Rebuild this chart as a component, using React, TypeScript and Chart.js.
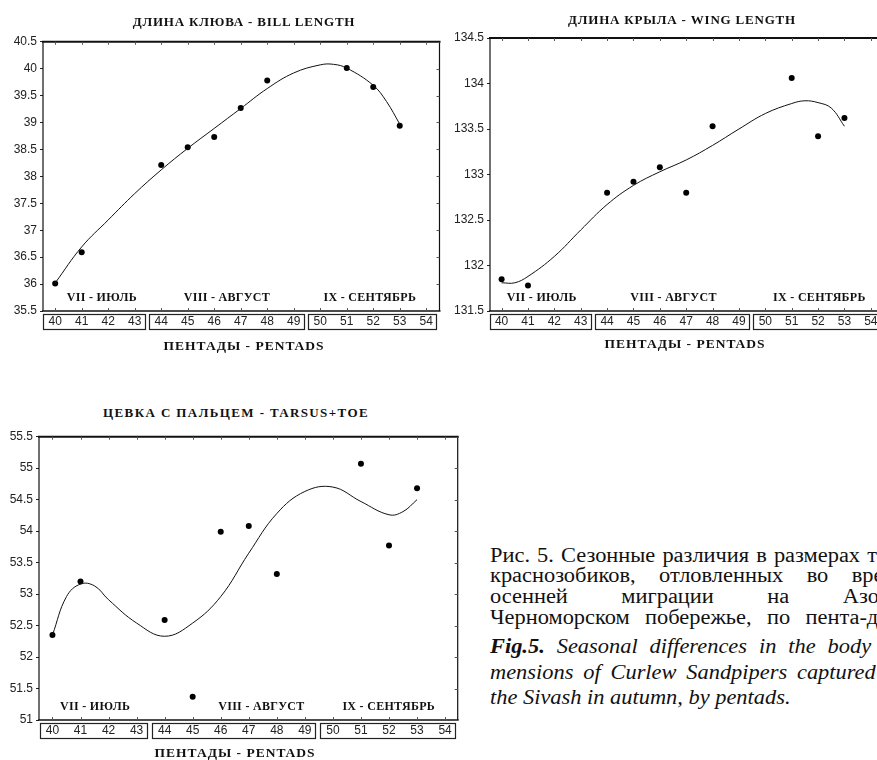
import React, { useEffect, useRef } from "react";
import { Chart, registerables } from "chart.js";

Chart.register(...registerables);

// ---------------- data ----------------
const pentadTicks = [40, 41, 42, 43, 44, 45, 46, 47, 48, 49, 50, 51, 52, 53, 54];
const pentadGroups = [
  [40, 43],
  [44, 49],
  [50, 54],
];
const monthNames = ["VII - ИЮЛЬ", "VIII - АВГУСТ", "IX - СЕНТЯБРЬ"];

const obsPentads = [40, 41, 44, 45, 46, 47, 48, 51, 52, 53];

// Bill length
const billValues = [36.01, 36.59, 38.21, 38.54, 38.73, 39.27, 39.78, 40.01, 39.66, 38.94];
const billCurvePentads = [40, 41, 42, 43, 44, 45, 46, 47, 48, 49, 50, 50.5, 51, 52, 52.5, 53];
const billCurveValues = [36.02, 36.69, 37.19, 37.68, 38.12, 38.52, 38.89, 39.26, 39.63, 39.92, 40.07, 40.08, 40.01, 39.69, 39.39, 38.97];

// Wing length
const wingValues = [131.85, 131.78, 132.8, 132.92, 133.08, 132.8, 133.53, 134.06, 133.42, 133.62];
const wingCurvePentads = [40, 40.5, 41, 42, 43, 44, 45, 46, 47, 48, 49, 50, 51, 51.5, 52, 52.5, 53];
const wingCurveValues = [131.81, 131.81, 131.88, 132.1, 132.39, 132.67, 132.88, 133.03, 133.16, 133.32, 133.5, 133.67, 133.78, 133.81, 133.79, 133.73, 133.53];

// Tarsus + toe
const tarsusValues = [52.35, 53.2, 52.59, 51.37, 53.99, 54.08, 53.32, 55.07, 53.77, 54.68];
const tarsusCurvePentads = [40, 40.5, 41, 41.5, 42, 43, 44, 45, 46, 47, 48, 49, 50, 51, 52, 52.5, 53];
const tarsusCurveValues = [52.35, 52.96, 53.16, 53.13, 52.91, 52.54, 52.33, 52.54, 52.96, 53.65, 54.28, 54.63, 54.7, 54.47, 54.26, 54.31, 54.5];

// ---------------- plugin ----------------
const decorPlugin = {
  id: "decor",
  afterDraw(chart: any, _args: any, opts: any) {
    const { ctx, chartArea: a } = chart;
    const x = chart.scales.x;
    const y = chart.scales.y;
    const line = (x1: number, y1: number, x2: number, y2: number) => {
      ctx.beginPath();
      ctx.moveTo(x1, y1);
      ctx.lineTo(x2, y2);
      ctx.stroke();
    };
    ctx.save();
    ctx.strokeStyle = "#111";
    // frame
    ctx.lineWidth = 2;
    line(a.left - 1, a.top, a.right + 1, a.top);
    ctx.lineWidth = 1.5;
    line(a.left - 1, a.bottom, a.right + 1, a.bottom);
    ctx.lineWidth = 1.2;
    line(a.left, a.top, a.left, a.bottom);
    line(a.right, a.top, a.right, a.bottom);
    // inner ticks
    ctx.lineWidth = 1;
    ctx.strokeStyle = "#555";
    x.ticks.forEach((t: any) => {
      const px = Math.round(x.getPixelForValue(t.value)) + 0.5;
      line(px, a.top, px, a.top + 3);
      line(px, a.bottom, px, a.bottom - 3);
    });
    y.ticks.forEach((t: any) => {
      const py = Math.round(y.getPixelForValue(t.value)) + 0.5;
      line(a.right, py, a.right - 3, py);
    });
    // boxes round the pentad groups
    ctx.strokeStyle = "#222";
    ctx.lineWidth = 1.2;
    (opts.groups || []).forEach((g: number[]) => {
      const l = x.getPixelForValue(g[0] - 0.45);
      const r = x.getPixelForValue(g[1] + 0.38);
      ctx.strokeRect(Math.round(l) + 0.5, Math.round(a.bottom + 3) + 0.5, Math.round(r - l), 15);
    });
    // month labels
    ctx.fillStyle = "#111";
    ctx.font = 'bold 12px "Liberation Serif", serif';
    ctx.textAlign = "center";
    ctx.textBaseline = "middle";
    try {
      (ctx as any).letterSpacing = "0.3px";
    } catch (e) {}
    (opts.months || []).forEach((m: string, i: number) => {
      ctx.fillText(m, x.getPixelForValue(opts.monthPos[i]), a.bottom - 13);
    });
    ctx.restore();
  },
};

type Spec = {
  values: number[];
  curveX: number[];
  curveY: number[];
  yMin: number;
  yMax: number;
  xMin: number;
  xMax: number;
  yWidth: number;
  padding: { left: number; top: number; right: number; bottom: number };
  monthPos: number[];
};

function makeConfig(s: Spec): any {
  return {
    type: "scatter",
    data: {
      datasets: [
        {
          type: "line",
          data: s.curveX.map((p, i) => ({ x: p, y: s.curveY[i] })),
          borderColor: "#111",
          borderWidth: 1,
          pointRadius: 0,
          tension: 0.4,
          fill: false,
        },
        {
          type: "scatter",
          data: obsPentads.map((p, i) => ({ x: p, y: s.values[i] })),
          backgroundColor: "#000",
          borderColor: "#000",
          pointRadius: 3,
          borderWidth: 0,
        },
      ],
    },
    options: {
      animation: false,
      responsive: false,
      maintainAspectRatio: false,
      layout: { padding: s.padding },
      plugins: {
        legend: { display: false },
        tooltip: { enabled: false },
        title: { display: false },
        decor: { groups: pentadGroups, months: monthNames, monthPos: s.monthPos },
      },
      scales: {
        x: {
          type: "linear",
          min: s.xMin,
          max: s.xMax,
          grid: { display: false, drawTicks: false },
          border: { display: false },
          afterBuildTicks: (sc: any) => {
            sc.ticks = pentadTicks.map((v) => ({ value: v }));
          },
          afterFit: (sc: any) => {
            sc.height = 20;
          },
          ticks: {
            autoSkip: false,
            maxRotation: 0,
            padding: 3,
            color: "#222",
            font: { family: '"Liberation Sans", Arial, sans-serif', size: 12 },
            callback: (v: any) => String(v),
          },
        },
        y: {
          type: "linear",
          min: s.yMin,
          max: s.yMax,
          grid: { drawOnChartArea: false, drawTicks: true, tickLength: 3, color: "#222" },
          border: { display: false },
          afterFit: (sc: any) => {
            sc.width = s.yWidth;
          },
          ticks: {
            stepSize: 0.5,
            padding: 3,
            color: "#222",
            font: { family: '"Liberation Sans", Arial, sans-serif', size: 12 },
            callback: (v: any) => String(Math.round(v * 10) / 10),
          },
        },
      },
    },
    plugins: [decorPlugin],
  };
}

function ChartBox(props: { spec: Spec; left: number; top: number; width: number; height: number }) {
  const ref = useRef<HTMLCanvasElement | null>(null);
  useEffect(() => {
    if (!ref.current) return;
    const c = new Chart(ref.current, makeConfig(props.spec));
    return () => c.destroy();
  }, []);
  return (
    <canvas
      ref={ref}
      width={props.width}
      height={props.height}
      style={{ position: "absolute", left: props.left, top: props.top, width: props.width, height: props.height }}
    />
  );
}

const serif = '"Liberation Serif", "Times New Roman", serif';

function Label(props: { text: string; cx: number; cy: number; size?: number; spacing?: number }) {
  return (
    <div
      style={{
        position: "absolute",
        left: props.cx - 200,
        top: props.cy - 10,
        width: 400,
        height: 20,
        lineHeight: "20px",
        textAlign: "center",
        fontFamily: serif,
        fontWeight: "bold",
        fontSize: props.size || 13,
        letterSpacing: (props.spacing ?? 0.8) + "px",
        color: "#111",
        whiteSpace: "nowrap",
      }}
    >
      {props.text}
    </div>
  );
}

const CAP_SCALE = 1.12;
const CAP_WIDTH = 418;

function CaptionLine(props: { top: number; justify?: boolean; italic?: boolean; scale?: number; children: any }) {
  const sc = props.scale || CAP_SCALE;
  return (
    <div
      style={{
        position: "absolute",
        left: 490,
        top: props.top - 11,
        width: CAP_WIDTH / sc,
        lineHeight: "22px",
        fontFamily: serif,
        fontSize: 20,
        fontStyle: props.italic ? "italic" : "normal",
        color: "#111",
        whiteSpace: props.justify ? "normal" : "nowrap",
        textAlign: props.justify ? "justify" : "left",
        textAlignLast: props.justify ? "justify" : "left",
        transform: `scaleX(${sc})`,
        transformOrigin: "0 0",
      } as any}
    >
      {props.children}
    </div>
  );
}

const billSpec: Spec = {
  values: billValues,
  curveX: billCurvePentads,
  curveY: billCurveValues,
  yMin: 35.5,
  yMax: 40.5,
  xMin: 39.54,
  xMax: 54.5,
  yWidth: 43,
  padding: { left: 0, top: 11.7, right: 20.5, bottom: 19 },
  monthPos: [41.76, 46.48, 51.87],
};

const wingSpec: Spec = {
  values: wingValues,
  curveX: wingCurvePentads,
  curveY: wingCurveValues,
  yMin: 131.5,
  yMax: 134.5,
  xMin: 39.56,
  xMax: 54.5,
  yWidth: 50,
  padding: { left: 0, top: 12, right: 16, bottom: 15 },
  monthPos: [41.52, 46.52, 52.05],
};

const tarsusSpec: Spec = {
  values: tarsusValues,
  curveX: tarsusCurvePentads,
  curveY: tarsusCurveValues,
  yMin: 51,
  yMax: 55.5,
  xMin: 39.52,
  xMax: 54.45,
  yWidth: 39,
  padding: { left: 0, top: 11.7, right: 22.3, bottom: 5 },
  monthPos: [41.52, 47.45, 51.99],
};

export default function App() {
  return (
    <div
      style={{
        position: "fixed",
        left: 0,
        top: 0,
        width: 877,
        height: 760,
        overflow: "hidden",
        background: "#fff",
      }}
    >
      <ChartBox spec={billSpec} left={0} top={30} width={460} height={320} />
      <ChartBox spec={wingSpec} left={440} top={26} width={460} height={320} />
      <ChartBox spec={tarsusSpec} left={0} top={425} width={480} height={320} />

      <Label text="ДЛИНА КЛЮВА - BILL LENGTH" cx={244} cy={22} />
      <Label text="ДЛИНА КРЫЛА - WING LENGTH" cx={682} cy={20} />
      <Label text="ЦЕВКА С ПАЛЬЦЕМ - TARSUS+TOE" cx={236} cy={413} spacing={1.4} />
      <Label text="ПЕНТАДЫ - PENTADS" cx={244} cy={346} size={13.5} spacing={1} />
      <Label text="ПЕНТАДЫ - PENTADS" cx={685} cy={344} size={13.5} spacing={1} />
      <Label text="ПЕНТАДЫ - PENTADS" cx={235} cy={753} size={13.5} spacing={1} />

      <CaptionLine top={555} justify>
        Рис. 5. Сезонные различия в размерах тела
      </CaptionLine>
      <CaptionLine top={575} justify>
        краснозобиков, отловленных во время
      </CaptionLine>
      <CaptionLine top={596} justify>
        осенней миграции на Азово-
      </CaptionLine>
      <CaptionLine top={617} justify>
        Черноморском побережье, по пента-дам.
      </CaptionLine>

      <CaptionLine top={646} italic justify>
        <b>Fig.5.</b> Seasonal differences in the body di-
      </CaptionLine>
      <CaptionLine top={672} italic justify>
        mensions of Curlew Sandpipers captured on
      </CaptionLine>
      <CaptionLine top={697} italic>
        the Sivash in autumn, by pentads.
      </CaptionLine>
    </div>
  );
}
